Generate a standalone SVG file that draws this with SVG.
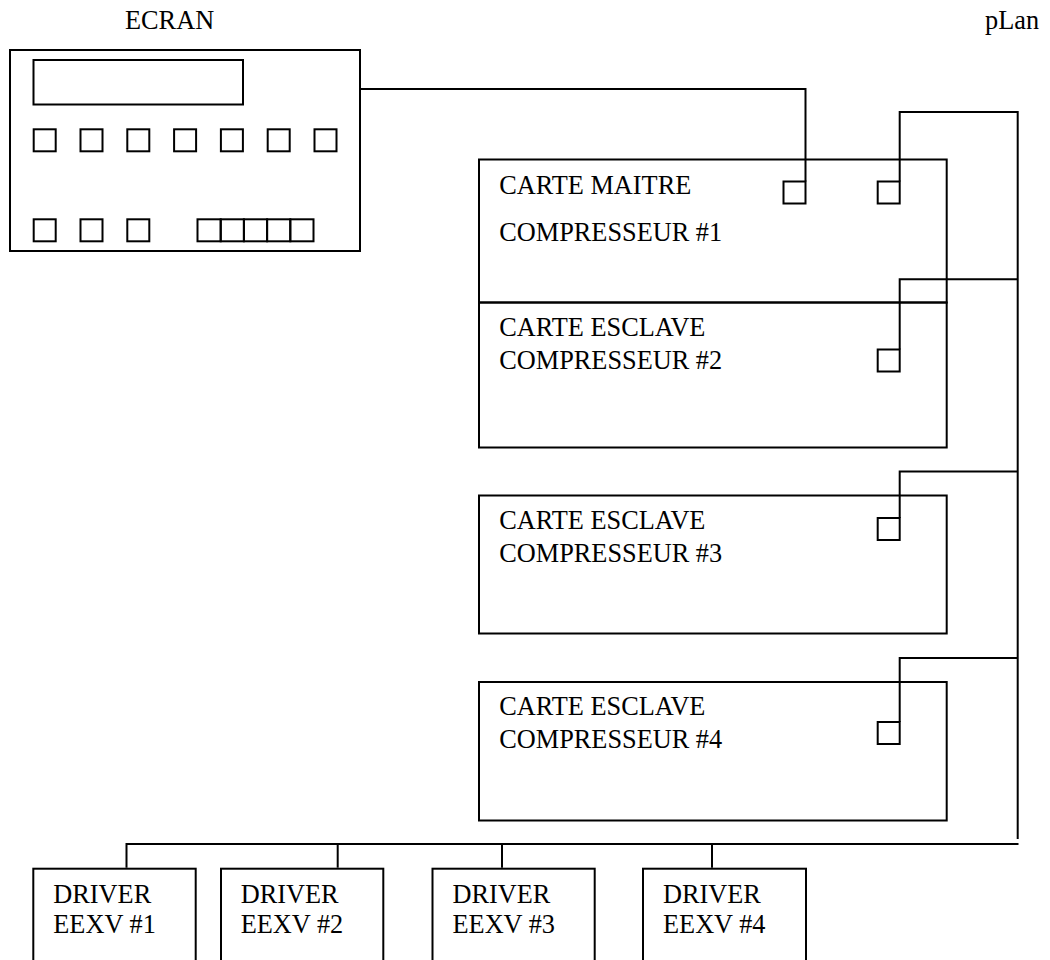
<svg xmlns="http://www.w3.org/2000/svg" width="1050" height="960" viewBox="0 0 1050 960">
<style>
.s{fill:none;stroke:#000;stroke-width:2}
.t{font-family:"Liberation Serif","Times New Roman",serif;font-size:26.3px;fill:#000}
</style>
<rect width="1050" height="960" fill="#fff"/>
<text class="t" x="125" y="29">ECRAN</text>
<text class="t" x="985" y="29">pLan</text>
<g id="ecran">
<rect class="s" x="10" y="50" width="350" height="201"/>
<rect class="s" x="33.5" y="60" width="209.5" height="44.5"/>
<g class="s">
<rect x="33.7" y="129.3" width="22" height="22"/>
<rect x="80.5" y="129.3" width="22" height="22"/>
<rect x="127.3" y="129.3" width="22" height="22"/>
<rect x="174.1" y="129.3" width="22" height="22"/>
<rect x="220.9" y="129.3" width="22" height="22"/>
<rect x="267.7" y="129.3" width="22" height="22"/>
<rect x="314.5" y="129.3" width="22" height="22"/>
<rect x="33.7" y="219.3" width="22" height="22"/>
<rect x="80.5" y="219.3" width="22" height="22"/>
<rect x="127.3" y="219.3" width="22" height="22"/>
<rect x="197.5" y="219.3" width="23.2" height="22"/>
<rect x="220.7" y="219.3" width="23.2" height="22"/>
<rect x="243.9" y="219.3" width="23.2" height="22"/>
<rect x="267.1" y="219.3" width="23.2" height="22"/>
<rect x="290.3" y="219.3" width="23.2" height="22"/>
</g>
</g>
<g id="carte1">
<rect class="s" x="479" y="159.5" width="467.7" height="143"/>
<text class="t" x="499.3" y="194">CARTE MAITRE</text>
<text class="t" x="499.3" y="241">COMPRESSEUR #1</text>
<rect class="s" x="783.5" y="181.5" width="22" height="22"/>
<rect class="s" x="877.7" y="181.5" width="22" height="22"/>
</g>
<g id="carte2">
<rect class="s" x="479" y="302.5" width="467.7" height="145"/>
<text class="t" x="499.3" y="336">CARTE ESCLAVE</text>
<text class="t" x="499.3" y="369">COMPRESSEUR #2</text>
<rect class="s" x="877.7" y="349.5" width="22" height="22"/>
</g>
<g id="carte3">
<rect class="s" x="479" y="495.5" width="467.7" height="138"/>
<text class="t" x="499.3" y="528.5">CARTE ESCLAVE</text>
<text class="t" x="499.3" y="561.5">COMPRESSEUR #3</text>
<rect class="s" x="877.7" y="518" width="22" height="22"/>
</g>
<g id="carte4">
<rect class="s" x="479" y="682" width="467.7" height="138.5"/>
<text class="t" x="499.3" y="715">CARTE ESCLAVE</text>
<text class="t" x="499.3" y="748">COMPRESSEUR #4</text>
<rect class="s" x="877.7" y="722" width="22" height="22"/>
</g>
<g id="driver1">
<rect class="s" x="33.3" y="868.7" width="162.4" height="110"/>
<text class="t" x="53.3" y="903">DRIVER</text>
<text class="t" x="53.3" y="933">EEXV #1</text>
</g>
<g id="driver2">
<rect class="s" x="221" y="868.7" width="162.3" height="110"/>
<text class="t" x="240.7" y="903">DRIVER</text>
<text class="t" x="240.7" y="933">EEXV #2</text>
</g>
<g id="driver3">
<rect class="s" x="432.5" y="868.7" width="162.2" height="110"/>
<text class="t" x="452.5" y="903">DRIVER</text>
<text class="t" x="452.5" y="933">EEXV #3</text>
</g>
<g id="driver4">
<rect class="s" x="643" y="868.7" width="163" height="110"/>
<text class="t" x="663" y="903">DRIVER</text>
<text class="t" x="663" y="933">EEXV #4</text>
</g>
<g id="connectors" class="s">
<polyline points="360,89 805.5,89 805.5,181.5"/>
<polyline points="899.7,181.5 899.7,112 1017.7,112 1017.7,839"/>
<polyline points="1017.7,279.3 899.7,279.3 899.7,349.5"/>
<polyline points="1017.7,471.5 899.7,471.5 899.7,518"/>
<polyline points="1017.7,658 899.7,658 899.7,722"/>
<polyline points="126.5,867.7 126.5,844 1018.5,844"/>
<line x1="337.7" y1="844" x2="337.7" y2="867.7"/>
<line x1="502" y1="844" x2="502" y2="867.7"/>
<line x1="712" y1="844" x2="712" y2="867.7"/>
</g>
</svg>
